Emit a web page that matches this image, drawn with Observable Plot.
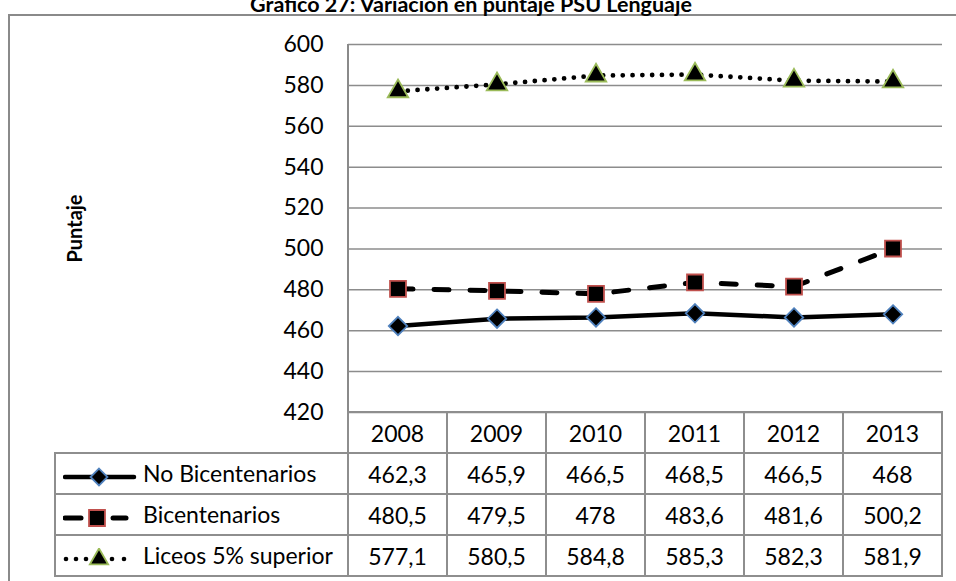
<!DOCTYPE html>
<html><head><meta charset="utf-8">
<script src="https://cdn.jsdelivr.net/npm/d3@7"></script>
<script src="https://cdn.jsdelivr.net/npm/@observablehq/plot@0.6"></script>
<style>
body{margin:0;background:#fff;}
#wrap{position:relative;width:956px;height:581px;overflow:hidden;font-family:Lato,sans-serif;color:#000;background:#fff;}
#frame{position:absolute;left:8px;top:14px;width:1000px;height:700px;border:2px solid #8a8a8a;box-sizing:border-box;}
#title{position:absolute;left:0;top:-6px;width:942px;text-align:center;font-weight:bold;font-size:21.5px;line-height:21px;white-space:nowrap;}
#chart{position:absolute;left:0;top:0;}
#axisline{position:absolute;left:347px;top:44px;width:2px;height:368px;background:#8a8a8a;}
#tbl{position:absolute;left:54px;top:411px;border-collapse:collapse;table-layout:fixed;font-size:23px;}
#tbl td{border:2px solid #8e8e8e;height:39px;padding:0;text-align:center;white-space:nowrap;}
#tbl td.lab{text-align:left;padding-left:7px;}
#tbl td.blank{border-top:none;border-left:none;}
#tbl svg{vertical-align:middle;margin-right:6px;}
</style></head><body>
<div id="wrap">
 <div id="frame"></div>
 <div id="title">Gráfico 27: Variación en puntaje PSU Lenguaje</div>
 <div id="chart"></div>
 <div id="axisline"></div>
 <table id="tbl"></table>
</div>
<script>
const years = ["2008", "2009", "2010", "2011", "2012", "2013"];
const seriesNames = ["No Bicentenarios", "Bicentenarios", "Liceos 5% superior"];
const noBicentenarios = [462.3, 465.9, 466.5, 468.5, 466.5, 468];
const bicentenarios = [480.5, 479.5, 478, 483.6, 481.6, 500.2];
const liceos5 = [577.1, 580.5, 584.8, 585.3, 582.3, 581.9];
const yTicks = [420, 440, 460, 480, 500, 520, 540, 560, 580, 600];
const yLabel = "Puntaje";

const seriesValues = [noBicentenarios, bicentenarios, liceos5];
const styles = [
  {dash: null, width: 4.5, symbol: "diamond2", r: 8.3, markStroke: "#4f81bd"},
  {dash: "15 21", width: 5, symbol: "square", r: 9, markStroke: "#c0504d"},
  {dash: "0 9.8", width: 4.8, symbol: "triangle", r: 7.6, markStroke: "#9bbb59"}
];
const rows = seriesNames.map((s, k) => years.map((yr, i) => ({year: yr, serie: s, value: seriesValues[k][i]})));

const marks = [
  Plot.ruleY(yTicks, {stroke: "#8c8c8c", strokeWidth: 1.5}),
  Plot.axisY(yTicks, {tickSize: 0, tickPadding: 25, fontSize: 23, label: null, tickFormat: d => String(d)}),
  Plot.text([yLabel], {frameAnchor: "left", textAnchor: "middle", rotate: -90, dx: -273, fontWeight: "bold", fontSize: 20})
];
rows.forEach((r, k) => {
  const st = styles[k];
  marks.push(Plot.line(r, {x: "year", y: "value", stroke: "#000", strokeWidth: st.width,
    strokeDasharray: st.dash || undefined, strokeLinecap: "round", strokeLinejoin: "round"}));
});
rows.forEach((r, k) => {
  const st = styles[k];
  marks.push(Plot.dot(r, {x: "year", y: "value", symbol: st.symbol, r: st.r, fill: "#000",
    stroke: st.markStroke, strokeWidth: 1.8}));
});

const chart = Plot.plot({
  width: 956, height: 414,
  marginLeft: 348, marginRight: 14, marginTop: 44, marginBottom: 2,
  style: {fontFamily: "Lato, sans-serif", background: "transparent", overflow: "visible", color: "#000"},
  x: {type: "band", domain: years, padding: 0, axis: null},
  y: {domain: [420, 600], axis: null},
  marks
});
document.getElementById("chart").appendChild(chart);

// data table
const fmt = v => String(v).replace(".", ",");
const tbl = d3.select("#tbl");
const cg = tbl.append("colgroup");
cg.append("col").style("width", "293px");
years.forEach(() => cg.append("col").style("width", "99px"));
const hr = tbl.append("tr");
hr.append("td").attr("class", "blank");
years.forEach(y => hr.append("td").text(y));
seriesNames.forEach((s, k) => {
  const tr = tbl.append("tr");
  const td = tr.append("td").attr("class", "lab");
  const svg = td.append("svg").attr("width", 74).attr("height", 22);
  const st = styles[k];
  const cy = 11;
  if (k === 0) {
    svg.append("line").attr("x1", 2).attr("x2", 71).attr("y1", cy).attr("y2", cy)
      .attr("stroke", "#000").attr("stroke-width", 4.5).attr("stroke-linecap", "round");
  } else if (k === 1) {
    [[2, 18], [50, 63]].forEach(([a, b]) => svg.append("line").attr("x1", a).attr("x2", b)
      .attr("y1", cy).attr("y2", cy).attr("stroke", "#000").attr("stroke-width", 5).attr("stroke-linecap", "round"));
  } else {
    [3, 13, 23, 49, 61].forEach(x => svg.append("circle").attr("cx", x).attr("cy", cy).attr("r", 2.3).attr("fill", "#000"));
  }
  const sym = {diamond2: d3.symbolDiamond2, square: d3.symbolSquare, triangle: d3.symbolTriangle}[st.symbol];
  const mx = k === 1 ? 34 : 36;
  const rr = k === 2 ? 6.8 : k === 0 ? 7.6 : st.r;
  svg.append("path").attr("d", d3.symbol(sym, Math.PI * rr * rr)())
    .attr("transform", `translate(${mx},${cy})`).attr("fill", "#000")
    .attr("stroke", st.markStroke).attr("stroke-width", 1.8);
  td.append("span").text(s);
  seriesValues[k].forEach(v => tr.append("td").text(fmt(v)));
});
</script>
</body></html>
